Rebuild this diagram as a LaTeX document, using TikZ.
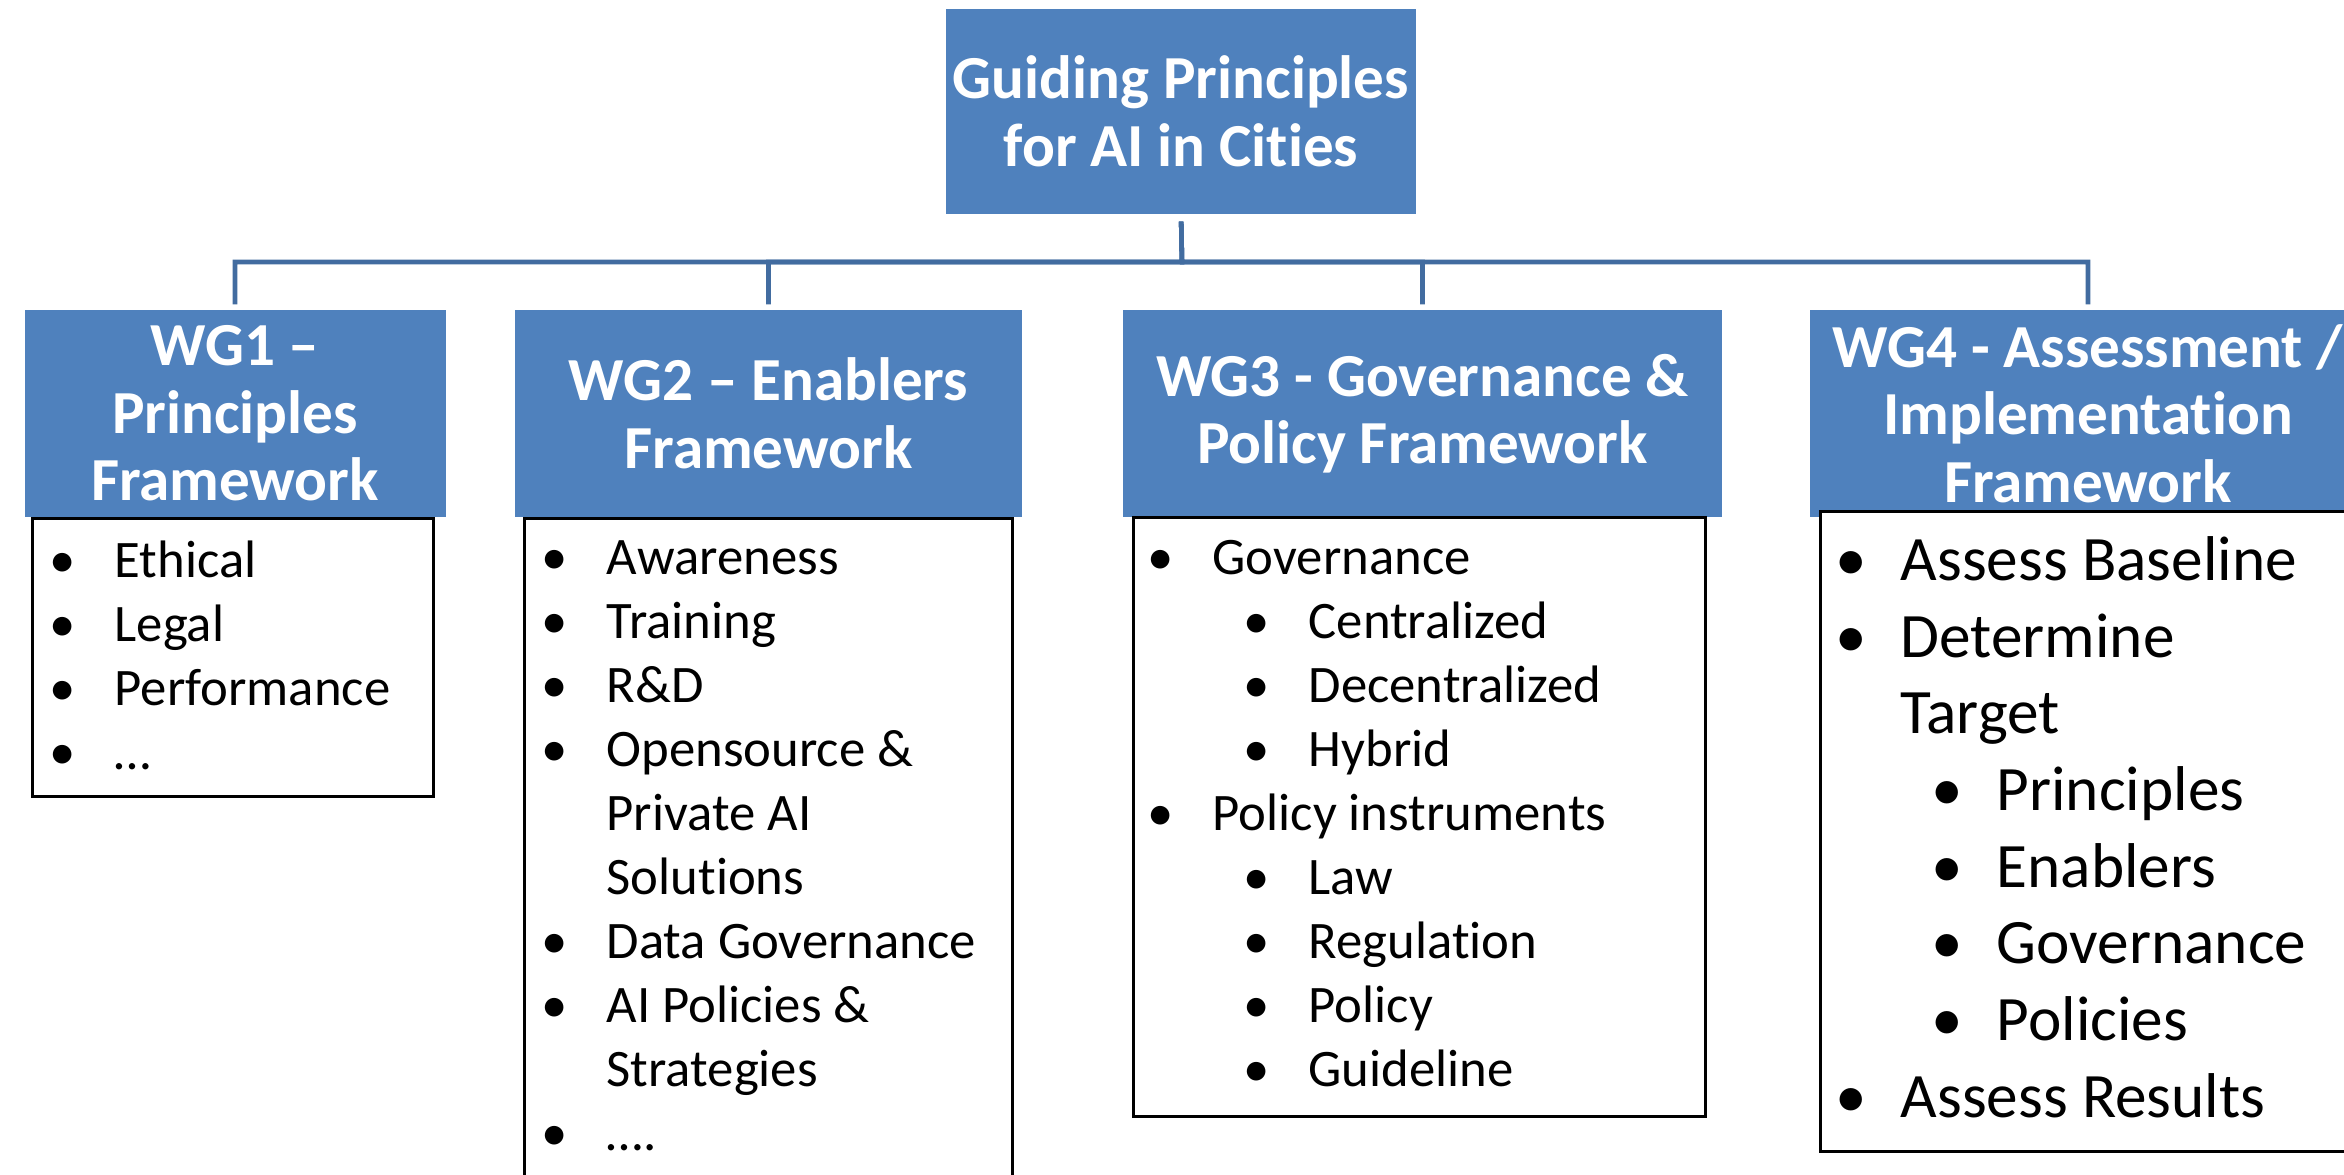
\documentclass[tikz,border=0pt]{standalone}
\usepackage{fontspec}
\setmainfont{Carlito}[Ligatures=NoCommon]
\usetikzlibrary{positioning}

\definecolor{wgblue}{RGB}{79,129,189}
\definecolor{linkblue}{RGB}{66,108,160}
\newcommand{\itm}[1]{\makebox[0.65cm][l]{\textbullet}#1}
\newcommand{\subitm}[1]{\hspace*{0.96cm}\itm{#1}}
\newcommand{\cont}[1]{\hspace*{0.65cm}#1}

\begin{document}
\begin{tikzpicture}[
        head_node/.style={rectangle, fill=wgblue, text=white, inner sep=0pt, align=center, font=\fontsize{17.4pt}{19.2pt}\selectfont\bfseries},
        list_box/.style={rectangle, draw=black, fill=white, line width=0.8pt, anchor=north west},
        list_text/.style={anchor=base west, align=left, inner sep=0pt, font=\fontsize{15pt}{18.2pt}\selectfont},
        link/.style={draw=linkblue, line width=1.3pt, shorten <=0.07cm, shorten >=0.05cm}
        ]
            \clip (0,0) rectangle (23.44,-11.75);

            % top
            \node[head_node, minimum width=4.70cm, minimum height=2.05cm] (guide) at (11.81,-1.115) {Guiding Principles\\for AI in Cities};
            % working groups
            \node[head_node, minimum width=4.21cm, minimum height=2.07cm] (wg_1) at (2.35,-4.135)  {WG1 –\\Principles\\Framework};
            \node[head_node, minimum width=5.07cm, minimum height=2.07cm] (wg_2) at (7.685,-4.135) {WG2 – Enablers\\Framework};
            \node[head_node, minimum width=5.99cm, minimum height=2.07cm] (wg_3) at (14.225,-4.135) {WG3 - Governance \&\\Policy Framework};
            \node[head_node, minimum width=5.56cm, minimum height=2.07cm] (wg_4) at (20.88,-4.135) {WG4 - Assessment /\\Implementation\\Framework};

            % Lines
            \coordinate (bus) at (11.82,-2.62);
            \draw[link] (guide.south) -- (bus) -| (wg_1.north);
            \draw[link] (guide.south) -- (bus) -| (wg_2.north);
            \draw[link] (guide.south) -- (bus) -| (wg_3.north);
            \draw[link] (guide.south) -- (bus) -| (wg_4.north);

            % lists (anchored at the baseline of their last line)
            \node[list_box, minimum width=4.01cm, minimum height=2.78cm] (list_1) at (0.31,-5.17)  {};
            \node[list_box, minimum width=4.88cm, minimum height=7.00cm] (list_2) at (5.23,-5.17)  {};
            \node[list_box, minimum width=5.72cm, minimum height=5.99cm] (list_3) at (11.32,-5.16) {};
            \node[list_box, minimum width=5.60cm, minimum height=6.40cm] (list_4) at (18.19,-5.10) {};

            \node[list_text] (items_1) at (0.49,-7.69) {\itm{Ethical}\\\itm{Legal}\\\itm{Performance}\\\itm{…}};
            \node[list_text] (items_2) at (5.41,-11.50) {\itm{Awareness}\\\itm{Training}\\\itm{R\&D}\\\itm{Opensource \&}\\\cont{Private AI}\\\cont{Solutions}\\\itm{Data Governance}\\\itm{AI Policies \&}\\\cont{Strategies}\\\itm{….}};
            \node[list_text] (items_3) at (11.47,-10.86) {\itm{Governance}\\\subitm{Centralized}\\\subitm{Decentralized}\\\subitm{Hybrid}\\\itm{Policy instruments}\\\subitm{Law}\\\subitm{Regulation}\\\subitm{Policy}\\\subitm{Guideline}};
            \node[list_text, font=\fontsize{18pt}{21.8pt}\selectfont] (items_4) at (18.35,-11.17) {\itm{Assess Baseline}\\\itm{Determine}\\\cont{Target}\\\subitm{Principles}\\\subitm{Enablers}\\\subitm{Governance}\\\subitm{Policies}\\\itm{Assess Results}};
        \end{tikzpicture}
\end{document}
